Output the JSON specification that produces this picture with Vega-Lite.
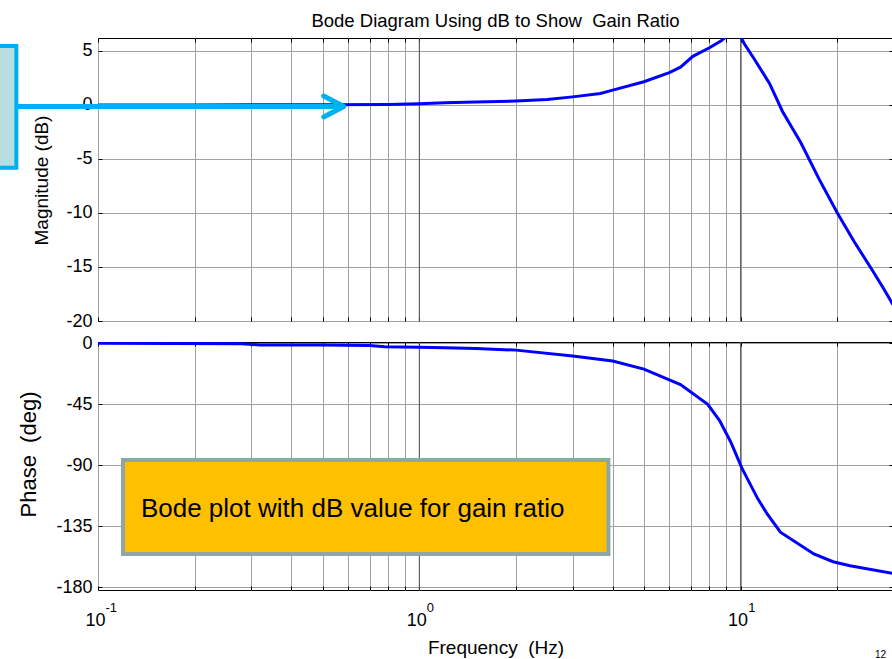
{
  "$schema": "https://vega.github.io/schema/vega-lite/v6.json",
  "autosize": {"type": "pad"},
  "padding": {"left": -6, "top": 11, "right": -1, "bottom": 0},
  "background": "white",
  "config": {
    "font": "Liberation Sans",
    "view": {"stroke": "#000", "strokeWidth": 1},
    "axis": {"labelColor": "#000", "titleColor": "#000", "titleFontWeight": "normal", "labelFont": "Liberation Sans", "titleFont": "Liberation Sans"}
  },
  "datasets": {
    "mag": [
      {"f": 0.1, "db": 0}, {"f": 0.2, "db": 0}, {"f": 0.3, "db": 0.01}, {"f": 0.5, "db": 0.02}, {"f": 0.8, "db": 0.05},
      {"f": 1.0, "db": 0.12}, {"f": 1.2, "db": 0.2}, {"f": 1.5, "db": 0.27}, {"f": 2.0, "db": 0.37}, {"f": 2.5, "db": 0.5},
      {"f": 3.0, "db": 0.75}, {"f": 3.66, "db": 1.06}, {"f": 4.0, "db": 1.37}, {"f": 5.0, "db": 2.15}, {"f": 6.0, "db": 3.0},
      {"f": 6.5, "db": 3.5}, {"f": 7.1, "db": 4.5}, {"f": 8.0, "db": 5.3}, {"f": 8.7, "db": 5.95}, {"f": 9.0, "db": 6.3},
      {"f": 9.5, "db": 6.5}, {"f": 10.0, "db": 6.3}, {"f": 10.3, "db": 5.6}, {"f": 11.0, "db": 4.3}, {"f": 12.3, "db": 2.0},
      {"f": 13.5, "db": -0.6}, {"f": 15.4, "db": -3.5}, {"f": 17.5, "db": -6.8}, {"f": 20.0, "db": -10.0}, {"f": 22.5, "db": -12.6},
      {"f": 25.7, "db": -15.3}, {"f": 28.0, "db": -17.1}, {"f": 29.8, "db": -18.5}
    ],
    "phase": [
      {"f": 0.1, "deg": 0}, {"f": 0.28, "deg": -0.3}, {"f": 0.32, "deg": -1.2}, {"f": 0.5, "deg": -1.3}, {"f": 0.7, "deg": -1.5},
      {"f": 0.78, "deg": -2.5}, {"f": 1.0, "deg": -2.8}, {"f": 1.2, "deg": -3.2}, {"f": 1.5, "deg": -3.8}, {"f": 2.0, "deg": -5.0},
      {"f": 3.0, "deg": -9.3}, {"f": 4.0, "deg": -13}, {"f": 5.0, "deg": -19}, {"f": 6.5, "deg": -30.4}, {"f": 7.9, "deg": -45},
      {"f": 8.6, "deg": -57}, {"f": 9.3, "deg": -72.5}, {"f": 10.1, "deg": -92.4}, {"f": 11.3, "deg": -114.7}, {"f": 12.1, "deg": -126},
      {"f": 13.3, "deg": -139.5}, {"f": 16.9, "deg": -155.6}, {"f": 19.4, "deg": -161.3}, {"f": 21.9, "deg": -164.3}, {"f": 29.8, "deg": -170}
    ],
    "decades": [{"f": 1}, {"f": 10}],
    "cyanBox": [{"f1": 0.04855, "f2": 0.0557, "y1": 5.46, "y2": -5.81}],
    "cyanLine": [{"f": 0.0557, "db": -0.14, "o": 1}, {"f": 0.575, "db": -0.14, "o": 2}],
    "chevron": [{"f": 0.504, "db": 0.83, "o": 1}, {"f": 0.5817, "db": -0.14, "o": 2}, {"f": 0.504, "db": -1.11, "o": 3}],
    "orangeBox": [{"f1": 0.1196, "f2": 3.877, "y1": -86.1, "y2": -155.6}],
    "note": [{"f": 0.136, "deg": -128.2, "text": "Bode plot with dB value for gain ratio"}],
    "page": [{"f": 26.2, "deg": -226.5, "text": "12"}]
  },
  "spacing": 21,
  "bounds": "flush",
  "vconcat": [
    {
      "width": 795,
      "height": 283,
      "title": {"text": "Bode Diagram Using dB to Show\u00a0 Gain Ratio", "fontSize": 18.5, "fontWeight": "normal", "font": "Liberation Sans", "color": "#000", "anchor": "middle", "frame": "group", "baseline": "alphabetic", "offset": -8},
      "resolve": {"axis": {"x": "independent", "y": "independent"}},
      "layer": [
        {
          "data": {"name": "decades"},
          "mark": {"type": "rule", "color": "#505050", "strokeWidth": 1},
          "encoding": {
            "x": {"field": "f", "type": "quantitative", "scale": {"type": "log", "domain": [0.1, 29.8], "nice": false}, "axis": null}
          }
        },
        {
          "data": {"name": "mag"},
          "mark": {"type": "line", "color": "#0000ff", "strokeWidth": 3, "clip": true},
          "encoding": {
            "x": {"field": "f", "type": "quantitative", "scale": {"type": "log", "domain": [0.1, 29.8], "nice": false},
              "axis": {"orient": "bottom", "values": [0.1,0.2,0.3,0.4,0.5,0.6,0.7,0.8,0.9,1,2,3,4,5,6,7,8,9,10,20], "grid": true, "gridColor": "#a0a0a0", "gridOpacity": 1, "labels": false, "ticks": true, "tickSize": -4, "tickColor": "#000", "domain": false, "title": null}},
            "y": {"field": "db", "type": "quantitative", "scale": {"domain": [-20, 6.2], "nice": false, "zero": false},
              "axis": {"orient": "left", "values": [5, 0, -5, -10, -15, -20], "labelExpr": "'' + datum.value", "grid": true, "gridColor": "#a0a0a0", "gridOpacity": 1, "labelFontSize": 18, "labelPadding": 10, "tickSize": -4, "tickColor": "#000", "domain": false,
                "title": "Magnitude (dB)", "titleFontSize": 19, "titleX": -57, "titleY": 142, "titleAlign": "center", "titleBaseline": "middle", "titleAngle": -90}}
          }
        },
        {
          "data": {"name": "cyanBox"},
          "mark": {"type": "rect", "fill": "#b7dde1", "stroke": "#00b0f0", "strokeWidth": 4, "clip": false},
          "encoding": {
            "x": {"field": "f1", "type": "quantitative", "scale": {"type": "log", "domain": [0.1, 29.8], "nice": false},
              "axis": {"orient": "top", "values": [0.1,0.2,0.3,0.4,0.5,0.6,0.7,0.8,0.9,1,2,3,4,5,6,7,8,9,10,20], "grid": false, "labels": false, "ticks": true, "tickSize": -4, "tickColor": "#000", "domain": false, "title": null}},
            "x2": {"field": "f2"},
            "y": {"field": "y1", "type": "quantitative", "scale": {"domain": [-20, 6.2], "nice": false, "zero": false},
              "axis": {"orient": "right", "values": [5, 0, -5, -10, -15, -20], "grid": false, "labels": false, "ticks": true, "tickSize": -4, "tickColor": "#000", "domain": false, "title": null}},
            "y2": {"field": "y2"}
          }
        },
        {
          "data": {"name": "cyanLine"},
          "mark": {"type": "line", "color": "#00b0f0", "strokeWidth": 5, "clip": false},
          "encoding": {
            "x": {"field": "f", "type": "quantitative", "scale": {"type": "log", "domain": [0.1, 29.8], "nice": false}, "axis": null},
            "y": {"field": "db", "type": "quantitative", "scale": {"domain": [-20, 6.2], "nice": false, "zero": false}, "axis": null},
            "order": {"field": "o"}
          }
        },
        {
          "data": {"name": "chevron"},
          "mark": {"type": "line", "color": "#00b0f0", "strokeWidth": 5, "strokeCap": "round", "strokeJoin": "round", "clip": false},
          "encoding": {
            "x": {"field": "f", "type": "quantitative", "scale": {"type": "log", "domain": [0.1, 29.8], "nice": false}, "axis": null},
            "y": {"field": "db", "type": "quantitative", "scale": {"domain": [-20, 6.2], "nice": false, "zero": false}, "axis": null},
            "order": {"field": "o"}
          }
        }
      ]
    },
    {
      "width": 795,
      "height": 248,
      "resolve": {"axis": {"x": "independent", "y": "independent"}},
      "layer": [
        {
          "data": {"name": "decades"},
          "mark": {"type": "rule", "color": "#505050", "strokeWidth": 1},
          "encoding": {
            "x": {"field": "f", "type": "quantitative", "scale": {"type": "log", "domain": [0.1, 29.8], "nice": false}, "axis": null}
          }
        },
        {
          "data": {"name": "phase"},
          "mark": {"type": "line", "color": "#0000ff", "strokeWidth": 3, "clip": true},
          "encoding": {
            "x": {"field": "f", "type": "quantitative", "scale": {"type": "log", "domain": [0.1, 29.8], "nice": false},
              "axis": {"orient": "bottom", "values": [0.1,0.2,0.3,0.4,0.5,0.6,0.7,0.8,0.9,1,2,3,4,5,6,7,8,9,10,20], "grid": true, "gridColor": "#a0a0a0", "gridOpacity": 1, "labels": false, "ticks": true, "tickSize": -4, "tickColor": "#000", "domain": false, "title": null}},
            "y": {"field": "deg", "type": "quantitative", "scale": {"domain": [-182.2, 1.0], "nice": false, "zero": false},
              "axis": {"orient": "left", "values": [0, -45, -90, -135, -180], "labelExpr": "'' + datum.value", "grid": true, "gridColor": "#a0a0a0", "gridOpacity": 1, "labelFontSize": 18, "labelPadding": 10, "tickSize": -4, "tickColor": "#000", "domain": false,
                "title": "Phase\u00a0 (deg)", "titleFontSize": 22, "titleX": -70, "titleY": 112, "titleAlign": "center", "titleBaseline": "middle", "titleAngle": -90}}
          }
        },
        {
          "data": {"name": "orangeBox"},
          "mark": {"type": "rect", "fill": "#ffc000", "stroke": "#8fa5a6", "strokeWidth": 4, "clip": false},
          "encoding": {
            "x": {"field": "f1", "type": "quantitative", "scale": {"type": "log", "domain": [0.1, 29.8], "nice": false},
              "axis": {"orient": "top", "values": [0.1,0.2,0.3,0.4,0.5,0.6,0.7,0.8,0.9,1,2,3,4,5,6,7,8,9,10,20], "grid": false, "labels": false, "ticks": true, "tickSize": -4, "tickColor": "#000", "domain": false, "title": null}},
            "x2": {"field": "f2"},
            "y": {"field": "y1", "type": "quantitative", "scale": {"domain": [-182.2, 1.0], "nice": false, "zero": false},
              "axis": {"orient": "right", "values": [0, -45, -90, -135, -180], "grid": false, "labels": false, "ticks": true, "tickSize": -4, "tickColor": "#000", "domain": false, "title": null}},
            "y2": {"field": "y2"}
          }
        },
        {
          "data": {"name": "note"},
          "mark": {"type": "text", "align": "left", "baseline": "alphabetic", "fontSize": 26, "font": "Liberation Sans", "color": "#000", "clip": false},
          "encoding": {
            "x": {"field": "f", "type": "quantitative", "scale": {"type": "log", "domain": [0.1, 29.8], "nice": false},
              "axis": {"orient": "bottom", "values": [0.1, 1, 10], "labelExpr": "'10'", "labelFontSize": 18, "labelOffset": -3, "labelPadding": 21, "labelBaseline": "top", "labelAlign": "center", "labelFlush": false, "grid": false, "ticks": false, "domain": false,
                "title": "Frequency\u00a0 (Hz)", "titleFontSize": 19, "titleBaseline": "alphabetic", "titleY": 63, "titleAlign": "center"}},
            "y": {"field": "deg", "type": "quantitative", "scale": {"domain": [-182.2, 1.0], "nice": false, "zero": false}, "axis": null},
            "text": {"field": "text"}
          }
        },
        {
          "data": {"name": "page"},
          "mark": {"type": "text", "align": "left", "baseline": "top", "fontSize": 10, "font": "Liberation Sans", "color": "#000", "clip": false},
          "encoding": {
            "x": {"field": "f", "type": "quantitative", "scale": {"type": "log", "domain": [0.1, 29.8], "nice": false},
              "axis": {"orient": "bottom", "values": [0.1, 1, 10], "labelExpr": "datum.value < 0.5 ? '-1' : datum.value < 5 ? '0' : '1'", "labelFontSize": 13, "labelOffset": 7, "labelPadding": 11, "labelBaseline": "top", "labelAlign": "left", "labelFlush": false, "grid": false, "ticks": false, "domain": false, "title": null}},
            "y": {"field": "deg", "type": "quantitative", "scale": {"domain": [-182.2, 1.0], "nice": false, "zero": false}, "axis": null},
            "text": {"field": "text"}
          }
        }
      ]
    }
  ]
}
